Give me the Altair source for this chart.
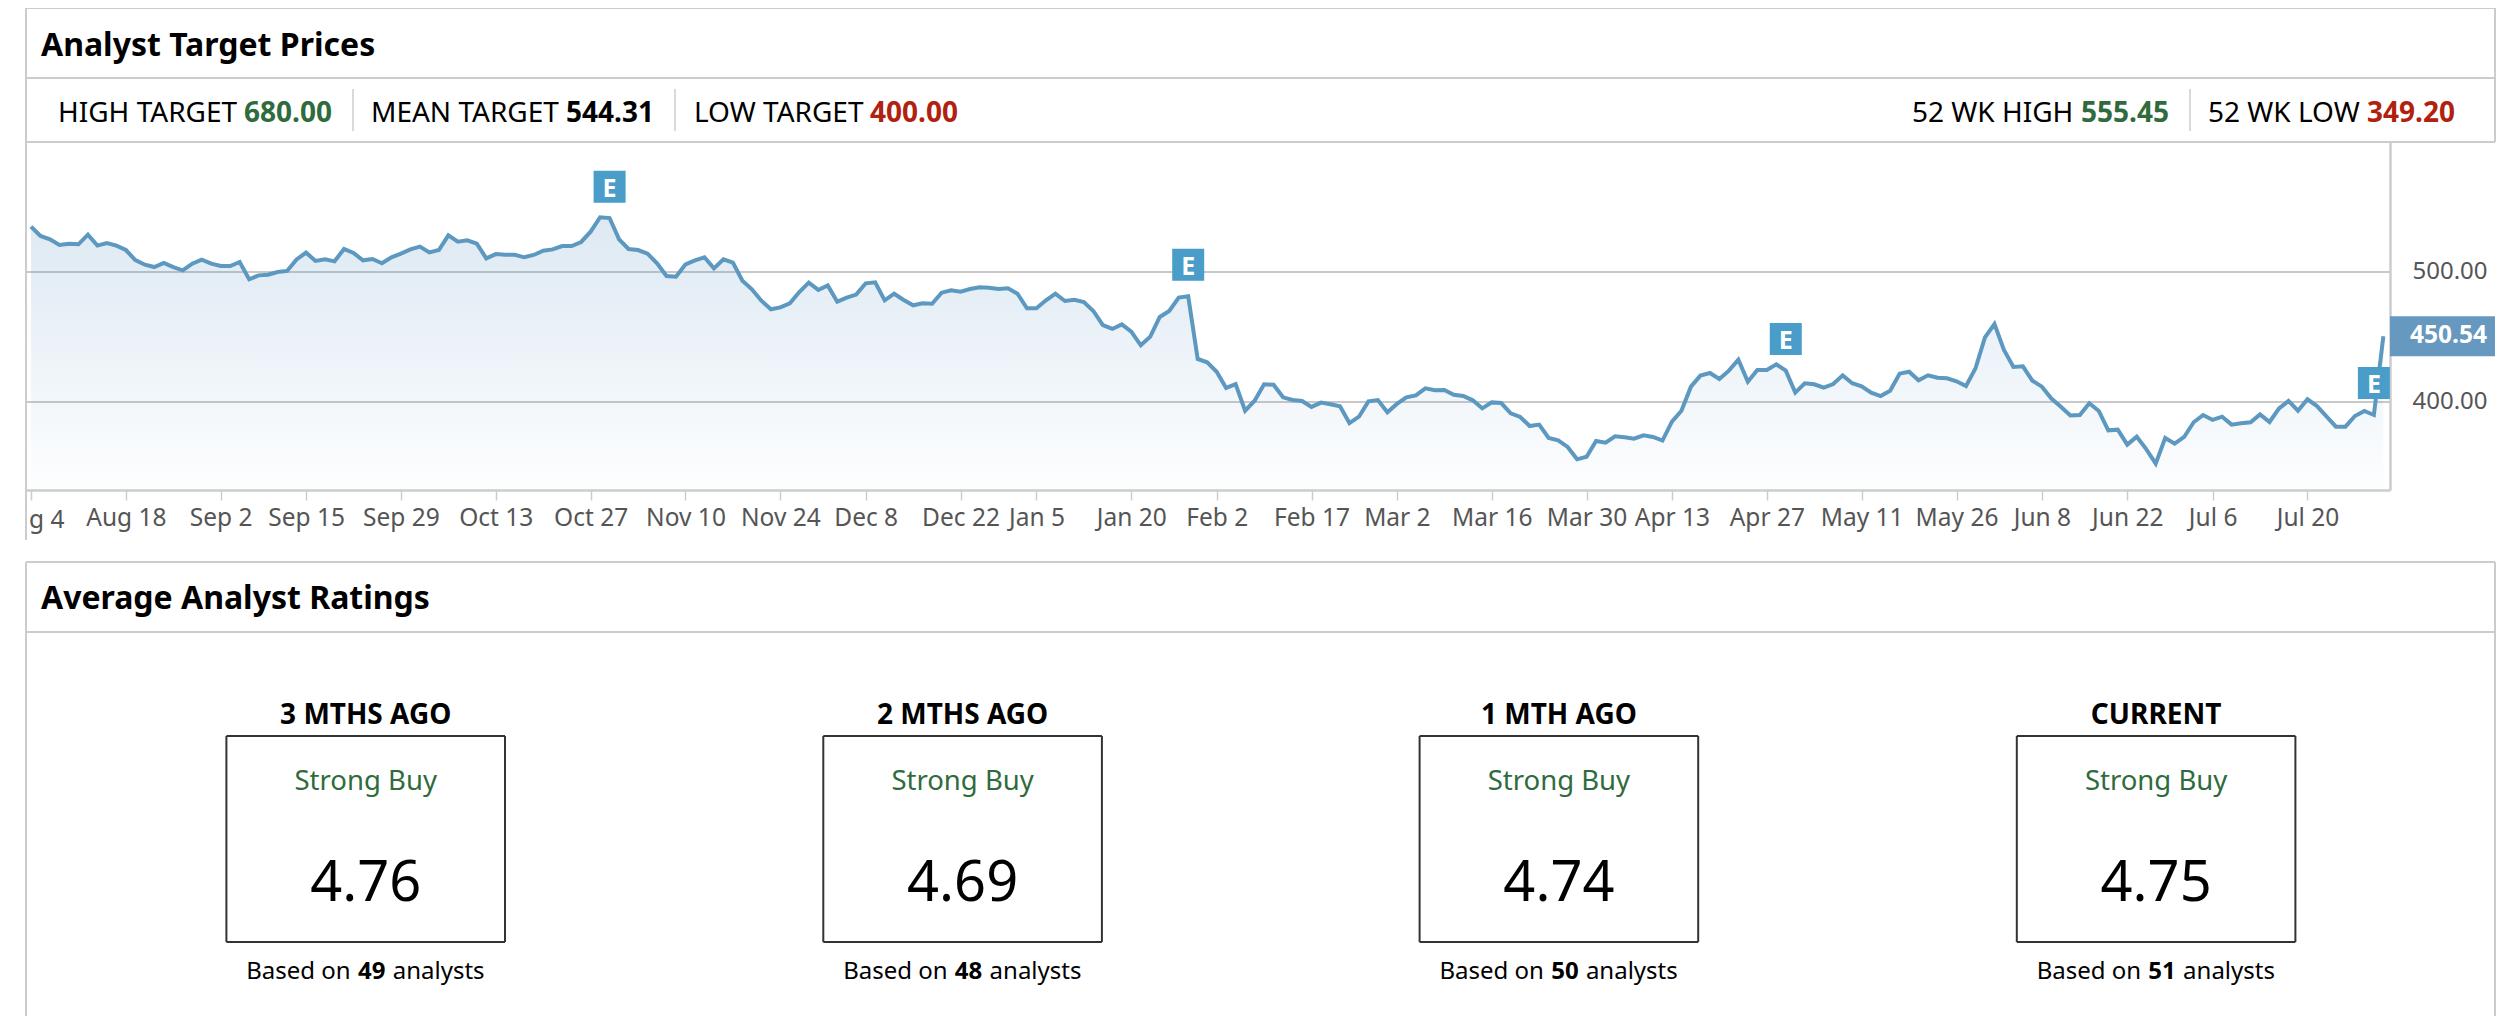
import altair as alt
import pandas as pd

# ---------- data ----------
prices = [
534.9,527.7,525.1,520.8,521.8,521.3,528.7,520.3,522.3,520.3,516.9,509.2,505.6,503.8,506.9,503.8,501.3,506.4,509.5,506.4,
504.6,504.6,507.7,494.4,497.4,497.9,500.0,500.8,509.7,514.9,508.5,509.7,508.2,517.7,514.6,509.0,510.0,506.7,511.3,514.1,
517.4,519.5,515.1,516.9,528.2,523.3,524.4,521.8,510.5,513.8,513.3,513.3,511.3,513.1,516.4,517.4,520.0,520.0,523.1,531.0,
542.1,541.5,525.1,517.7,516.9,514.1,506.7,496.9,496.4,505.9,509.0,511.3,502.8,509.7,507.2,493.3,486.7,477.9,471.3,472.8,
475.9,484.6,491.8,486.2,489.7,477.2,480.3,482.6,491.3,492.1,478.2,483.3,478.5,474.4,475.9,475.6,484.1,485.9,484.9,486.9,
488.2,487.9,486.9,487.4,483.3,472.1,472.1,478.2,483.3,477.7,478.7,476.9,470.0,459.2,456.2,459.7,454.1,443.6,450.3,465.4,
470.0,480.3,481.3,433.1,430.5,423.3,410.8,413.8,393.3,401.0,413.6,413.3,403.6,401.5,400.8,396.2,399.5,398.2,396.7,383.8,
388.7,400.5,401.5,392.1,398.5,403.6,405.1,410.5,409.0,409.2,405.6,404.6,401.3,395.1,399.7,399.2,391.3,388.5,381.5,382.6,
372.3,370.5,365.4,355.9,357.9,370.0,368.7,373.6,372.8,371.8,374.4,373.1,370.3,384.9,393.3,411.8,420.3,422.3,417.7,424.1,
432.6,415.6,424.6,424.6,429.0,424.1,407.2,414.4,413.6,411.0,413.8,420.5,414.4,412.1,407.2,404.6,408.7,421.8,423.3,416.7,
420.5,418.7,418.2,415.9,412.3,425.9,449.7,460.0,440.0,426.9,427.4,416.4,411.8,402.6,396.4,389.7,390.0,399.0,393.1,378.2,
378.7,367.2,373.3,363.8,352.6,372.3,367.9,373.1,384.4,390.0,386.2,388.7,382.6,383.6,384.4,390.5,384.6,395.1,400.8,393.3,
402.1,396.9,389.0,381.0,381.0,389.2,393.1,390.0,450.54]

tick_index = [0,10,20,29,39,49,59,69,79,88,98,106,116,125,135,144,154,164,173,183,193,203,212,221,230,240]
tick_labels = ["","Aug 18","Sep 2","Sep 15","Sep 29","Oct 13","Oct 27","Nov 10","Nov 24","Dec 8","Dec 22","Jan 5","Jan 20",
               "Feb 2","Feb 17","Mar 2","Mar 16","Mar 30","Apr 13","Apr 27","May 11","May 26","Jun 8","Jun 22","Jul 6","Jul 20"]
grid_values = [400, 500]
last_price = 450.54
earn_index = [61, 122, 185, 247]
earn_level = [565.6, 505.6, 448.5, 414.6]

rating_titles = ["3 MTHS AGO","2 MTHS AGO","1 MTH AGO","CURRENT"]
rating_words = ["Strong Buy"]*4
rating_values = ["4.76","4.69","4.74","4.75"]
rating_counts = ["49","48","50","51"]

FONT = "Noto Sans"
GREEN = "#2f6b3c"; RED = "#b0220f"; FRAME = "#cccccc"; LINE = "#5c98c0"; EBLUE = "#4a9dc9"

W, H = 2494, 1008
one = alt.Data(values=[{"a": 1}])

def px(v):  # page pixel to plot pixel
    return v - 8

def text(t, x, y, size, color="#000000", weight="normal", align="left"):
    return alt.Chart(one).mark_text(font=FONT, fontSize=size, fontWeight=weight, color=color,
                                    align=align, baseline="middle").encode(
        x=alt.value(px(x)), y=alt.value(px(y)), text=alt.value(t))

def hline(x1, x2, y, color=FRAME, w=2):
    return alt.Chart(one).mark_rule(color=color, strokeWidth=w).encode(
        x=alt.value(px(x1)), x2=alt.value(px(x2)), y=alt.value(px(y)))

def vline(x, y1, y2, color=FRAME, w=2):
    return alt.Chart(one).mark_rule(color=color, strokeWidth=w).encode(
        x=alt.value(px(x)), y=alt.value(px(y1)), y2=alt.value(px(y2)))

# ---------- frames ----------
L, R = 26, 2495
layers = [
    hline(L, R, 8), hline(L, R, 78), hline(L, R, 142), vline(L, 8, 142), vline(R, 8, 142),
    hline(L, R, 562), hline(L, R, 632), vline(L, 562, 1016), vline(R, 562, 1016),
    vline(L, 142, 540),
    vline(353, 89, 131, w=1.5), vline(675, 89, 131, w=1.5), vline(2190, 89, 131, w=1.5),
    text("Analyst Target Prices", 41, 45.5, 32, weight="bold"),
    text("Average Analyst Ratings", 41, 598.5, 32, weight="bold"),
    text("HIGH TARGET", 58, 114, 28), text("680.00", 244, 114, 28, GREEN, "bold"),
    text("MEAN TARGET", 371, 114, 28), text("544.31", 566, 114, 28, "#000000", "bold"),
    text("LOW TARGET", 694, 114, 28), text("400.00", 870, 114, 28, RED, "bold"),
    text("52 WK HIGH", 1912, 114, 28), text("555.45", 2081, 114, 28, GREEN, "bold"),
    text("52 WK LOW", 2208, 114, 28), text("349.20", 2367, 114, 28, RED, "bold"),
]

# ---------- price chart ----------
df = pd.DataFrame({"i": range(len(prices)), "price": prices})
df["base"] = 332.3
xscale = alt.Scale(domain=[-0.527, 248.7], range=[px(26), px(2390)], nice=False, zero=False)
yscale = alt.Scale(domain=[332.3, 600], range=[px(490), px(142)], nice=False, zero=False)
xaxis = alt.Axis(values=tick_index, title=None, grid=False, orient="bottom", offset=px(490) - H,
                 labelExpr="{" + ",".join(f"{i}:'{l}'" for i, l in zip(tick_index, tick_labels)) + "}[datum.value]",
                 labelFont=FONT, labelFontSize=24.5, labelColor="#555555", labelOverlap=False, labelBound=False,
                 labelPadding=6, labelFlush=False,
                 domainColor=FRAME, domainWidth=2.5, tickColor=FRAME, tickWidth=1.5, tickSize=10)
yaxis = alt.Axis(values=grid_values, title=None, grid=False, orient="right", offset=px(2390) - W,
                 format=".2f", labelFont=FONT, labelFontSize=24, labelColor="#555555", labelPadding=22,
                 domainColor=FRAME, domainWidth=2.5, tickSize=0)
x = alt.X("i:Q", scale=xscale, axis=xaxis)
y = alt.Y("price:Q", scale=yscale, axis=yaxis)

grid_df = pd.DataFrame({"price": grid_values, "i": -0.527, "b": 248.7})
layers.append(alt.Chart(grid_df).mark_rule(color="#c8c8c8", strokeWidth=2).encode(x=x, x2="b:Q", y=y))

gradient = alt.Gradient(gradient="linear", x1=0, x2=0, y1=0, y2=1, stops=[
    alt.GradientStop(color="rgba(85,145,195,0.20)", offset=0),
    alt.GradientStop(color="rgba(85,145,195,0.01)", offset=1)])
layers.append(alt.Chart(df).mark_area(color=gradient, interpolate="linear").encode(x=x, y=y, y2="base:Q"))
layers.append(alt.Chart(df).mark_line(color=LINE, strokeWidth=4, interpolate="linear").encode(x=x, y=y))

earn_df = pd.DataFrame({"i": earn_index, "price": earn_level})
layers.append(alt.Chart(earn_df).mark_square(size=1024, color=EBLUE, opacity=1).encode(x=x, y=y))
layers.append(alt.Chart(earn_df).mark_text(text="E", font=FONT, fontSize=25, fontWeight="bold", color="white", dy=2).encode(x=x, y=y))

layers.append(text("g 4", 29, 521, 24.5, "#555555"))

last_df = pd.DataFrame({"price": [last_price], "label": [f"{last_price:.2f}"]})
layers.append(alt.Chart(last_df).mark_rule(color="#6698c0", strokeWidth=40).encode(
    x=alt.value(px(2390)), x2=alt.value(px(2495)), y=y))
layers.append(alt.Chart(last_df).mark_text(font=FONT, fontSize=24.5, fontWeight="bold", color="white", align="right").encode(
    x=alt.value(px(2487)), y=y, text="label:N"))

# ---------- rating boxes ----------
box_left = [226.4, 823.3, 1419.6, 2016.8]
for k, left in enumerate(box_left):
    right = left + 278.6
    mid = (left + right) / 2
    top, bottom = 736, 942
    layers += [
        hline(left, right, top, "#333333", 2), hline(left, right, bottom, "#333333", 2),
        vline(left, top, bottom, "#333333", 2), vline(right, top, bottom, "#333333", 2),
        text(rating_titles[k], mid, 716, 28, weight="bold", align="center"),
        text(rating_words[k], mid, 782, 27.5, GREEN, align="center"),
        text(rating_values[k], mid, 884, 56, align="center"),
        text("Based on", mid - 15, 972, 24, align="right"),
        text(rating_counts[k], mid + 6, 972, 24, weight="bold", align="center"),
        text("analysts", mid + 27, 972, 24, align="left"),
    ]

chart = alt.layer(*layers).properties(width=W, height=H, padding=0,
                                      autosize=alt.AutoSizeParams(type="none")).configure_view(stroke=None)
chart.save("out.html", embed_options={"renderer": "svg", "actions": False})
